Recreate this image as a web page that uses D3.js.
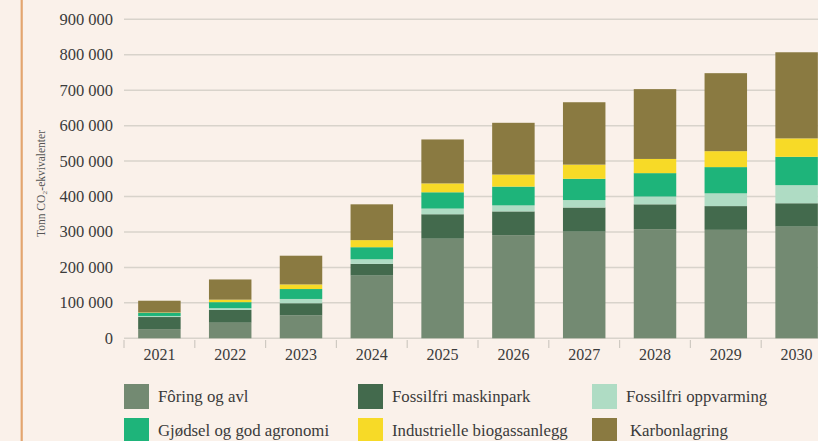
<!DOCTYPE html>
<html>
<head>
<meta charset="utf-8">
<script src="https://cdn.jsdelivr.net/npm/d3@7"></script>
<style>
  html, body { margin: 0; padding: 0; background: #faf1ea; overflow: hidden; }
  svg { display: block; }
</style>
</head>
<body>
<div id="chart"></div>
<script>
// Tiltak i landbruket – stablede søyler, tonn CO2-ekv per år
const YEARS = ["2021", "2022", "2023", "2024", "2025", "2026", "2027", "2028", "2029", "2030"];
const SERIES = ["Fôring og avl", "Fossilfri maskinpark", "Fossilfri oppvarming",
  "Gjødsel og god agronomi", "Industrielle biogassanlegg", "Karbonlagring"];
// verdier i tonn (lest av figuren)
const FORING   = [26000, 44000, 65000, 177000, 281000, 291000, 301000, 308000, 306000, 315000];
const MASKIN   = [34000, 36000, 34000, 33000, 69000, 67000, 68000, 70000, 67000, 66000];
const OPPVARM  = [3000, 5000, 12000, 13000, 16000, 17000, 21000, 22000, 36000, 51000];
const GJODSEL  = [9000, 17000, 28000, 34000, 46000, 53000, 60000, 66000, 74000, 80000];
const BIOGASS  = [1000, 7000, 13000, 20000, 25000, 34000, 40000, 40000, 45000, 52000];
const KARBON   = [33000, 57000, 81000, 101000, 124000, 146000, 176000, 197000, 220000, 243000];
const Y_TICKS  = [0, 100000, 200000, 300000, 400000, 500000, 600000, 700000, 800000, 900000];

(() => {
  const W = 818, H = 441;
  const PL = 124, PR = 832, TOP = 19.3, BASE = 338.3;
  const COL = ["#738a72", "#436a4d", "#afdcc4", "#1eb47a", "#f7da27", "#8a7a41"];
  const FONT = "'Liberation Serif', 'Times New Roman', serif";
  const INK = "#3b3b3b";

  const rows = YEARS.map((y, i) => ({
    year: y,
    [SERIES[0]]: FORING[i], [SERIES[1]]: MASKIN[i], [SERIES[2]]: OPPVARM[i],
    [SERIES[3]]: GJODSEL[i], [SERIES[4]]: BIOGASS[i], [SERIES[5]]: KARBON[i],
  }));
  const stack = d3.stack().keys(SERIES)(rows);

  const x = d3.scaleBand().domain(YEARS).range([PL, PR])
    .paddingInner(0.4).paddingOuter(0.2);
  const y = d3.scaleLinear().domain([0, 900000]).range([BASE, TOP]);

  const svg = d3.select("#chart").append("svg")
    .attr("width", W).attr("height", H);
  svg.append("rect").attr("width", W).attr("height", H).attr("fill", "#faf1ea");

  // venstre aksent-linje
  svg.append("line").attr("x1", 21.7).attr("x2", 21.7).attr("y1", 0).attr("y2", H)
    .attr("stroke", "#e3a56f").attr("stroke-width", 2.2);

  // rutenett + y-etiketter
  const fmt = v => d3.format(",")(v).replace(/,/g, " ");
  Y_TICKS.forEach(v => {
    svg.append("line").attr("x1", PL).attr("x2", PR)
      .attr("y1", y(v)).attr("y2", y(v))
      .attr("stroke", "#d8d3cb").attr("stroke-width", 1.5);
    svg.append("text").attr("x", 113).attr("y", y(v) + 5.5)
      .attr("text-anchor", "end")
      .attr("style", `font:16.5px ${FONT};fill:${INK}`)
      .text(fmt(v));
  });

  // aksetittel
  svg.append("text")
    .attr("transform", `translate(45,${(127 + 240) / 2}) rotate(-90)`)
    .attr("text-anchor", "middle")
    .attr("style", `font:11.5px ${FONT};fill:#555`)
    .text("Tonn CO₂-ekvivalenter");

  // søyler
  svg.append("g").selectAll("g").data(stack).join("g")
    .attr("fill", (d, i) => COL[i])
    .selectAll("rect").data(d => d).join("rect")
    .attr("x", d => x(d.data.year))
    .attr("width", x.bandwidth())
    .attr("y", d => y(d[1]))
    .attr("height", d => y(d[0]) - y(d[1]));

  // x-akse: skillestreker + årstall
  const step = x.step();
  d3.range(YEARS.length + 1).forEach(i => {
    const xx = PL + i * step;
    svg.append("line").attr("x1", xx).attr("x2", xx).attr("y1", 340).attr("y2", 348)
      .attr("stroke", "#cfcac2").attr("stroke-width", 1.2);
  });
  YEARS.forEach(yr => {
    svg.append("text").attr("x", x(yr) + x.bandwidth() / 2).attr("y", 360)
      .attr("text-anchor", "middle")
      .attr("style", `font:16px ${FONT};fill:${INK}`)
      .text(yr);
  });

  // forklaring
  const LX = [124, 358, 592], LY = [384, 418];
  SERIES.forEach((s, i) => {
    const cx = LX[i % 3], cy = LY[Math.floor(i / 3)];
    svg.append("rect").attr("x", cx).attr("y", cy).attr("width", 25).attr("height", 25)
      .attr("fill", COL[i]);
    svg.append("text").attr("x", cx + 34 + (i === 5 ? 4 : 0)).attr("y", cy + 18)
      .attr("style", `font:16.8px ${FONT};fill:${INK}`)
      .text(s);
  });
})();
</script>
</body>
</html>
